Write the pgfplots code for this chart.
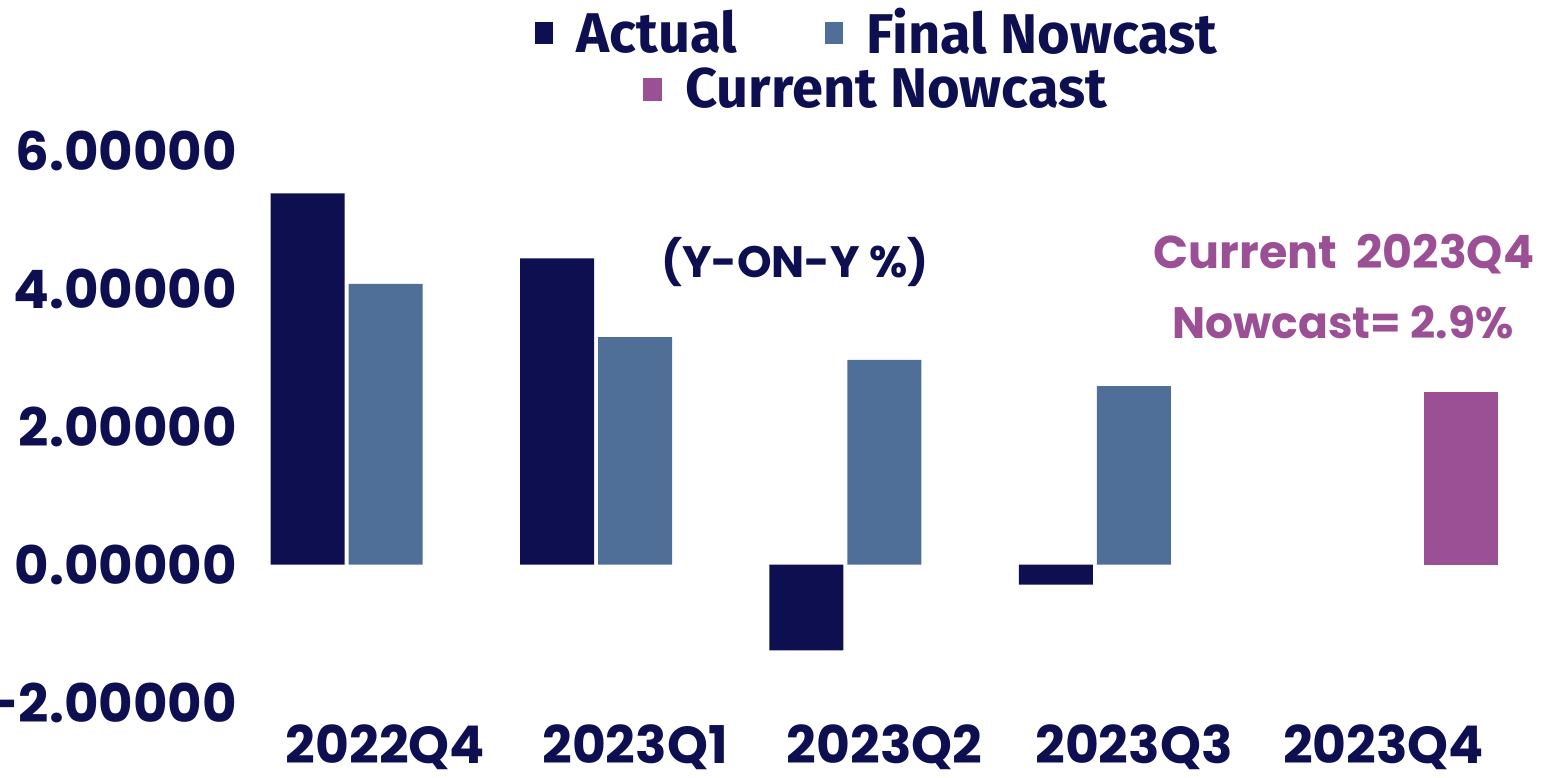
\documentclass[border=0pt]{standalone}
\usepackage{fontspec}
\usepackage{pgfplots}
\pgfplotsset{compat=1.18}
\newfontfamily\pop{Poppins}
\newfontfamily\fira{Fira Sans}
\definecolor{navy}{HTML}{0D0F50}
\definecolor{fnow}{HTML}{4F6E98}
\definecolor{cnow}{HTML}{9B5095}
\begin{document}
\begin{tikzpicture}
\useasboundingbox (-124.15pt,-37.15pt) rectangle (646.85pt,351.35pt);
\begin{axis}[
  scale only axis, width=636.2pt, height=276pt,
  xmin=-0.55, xmax=4.55, ymin=-2, ymax=6,
  axis line style={draw=none}, major tick length=0pt, tick style={draw=none},
  ybar=2pt, bar width=37pt,
  xtick={0,1,2,3,4}, xticklabels={2022Q4,2023Q1,2023Q2,2023Q3,2023Q4},
  ytick={-2,0,2,4,6}, yticklabels={-2.00000,0.00000,2.00000,4.00000,6.00000},
  ticklabel style={font=\pop\bfseries\fontsize{26}{30}\selectfont, text=navy, inner sep=0pt},
  yticklabel style={anchor=east, xshift=-5.5pt, font=\pop\bfseries\fontsize{26.5}{30}\selectfont},
  xticklabel style={anchor=base, yshift=-30.5pt},
  legend columns=2,
  legend style={at={(0.4933,1.2141)}, anchor=center, draw=none, fill=none,
    font=\fira\bfseries\fontsize{28}{32}\selectfont,
    nodes={inner sep=0pt, text=navy}, column sep=12pt,
    /tikz/every even column/.append style={column sep=44pt}},
  clip=false,
]
\addplot[fill=navy, draw=none, legend image code/.code={\fill[navy] (0pt,-5.5pt) rectangle (9pt,5.5pt);}]
  coordinates {(0,5.38) (1,4.44) (2,-1.24) (3,-0.29)};
\addlegendentry{Actual}
\addplot[fill=fnow, draw=none, legend image code/.code={\fill[fnow] (0pt,-5.5pt) rectangle (9pt,5.5pt);}]
  coordinates {(0,4.07) (1,3.30) (2,2.97) (3,2.59)};
\addlegendentry{Final Nowcast}
\addplot[fill=cnow, draw=none]
  coordinates {(4,2.50)};
\node[font=\pop\bfseries\fontsize{22}{28}\selectfont, text=navy] at (axis cs:1.641,4.387) {(Y-ON-Y \%)};
\node[font=\pop\bfseries\fontsize{23}{26}\selectfont, text=cnow] at (axis cs:3.842,4.50) {Current\ \ 2023Q4};
\node[font=\pop\bfseries\fontsize{22}{26}\selectfont, text=cnow] at (axis cs:3.838,3.52) {Nowcast= 2.9\%};
\end{axis}
\begin{axis}[
  scale only axis, width=636.2pt, height=276pt,
  xmin=-0.55, xmax=4.55, ymin=-2, ymax=6, hide axis,
  legend style={at={(0.4924,1.1118)}, anchor=center, draw=none, fill=none,
    font=\fira\bfseries\fontsize{28}{32}\selectfont,
    nodes={inner sep=0pt, text=navy}, column sep=12pt},
]
\addlegendimage{legend image code/.code={\fill[cnow] (0pt,-5.5pt) rectangle (9pt,5.5pt);}}
\addlegendentry{Current Nowcast}
\end{axis}
\end{tikzpicture}
\end{document}
